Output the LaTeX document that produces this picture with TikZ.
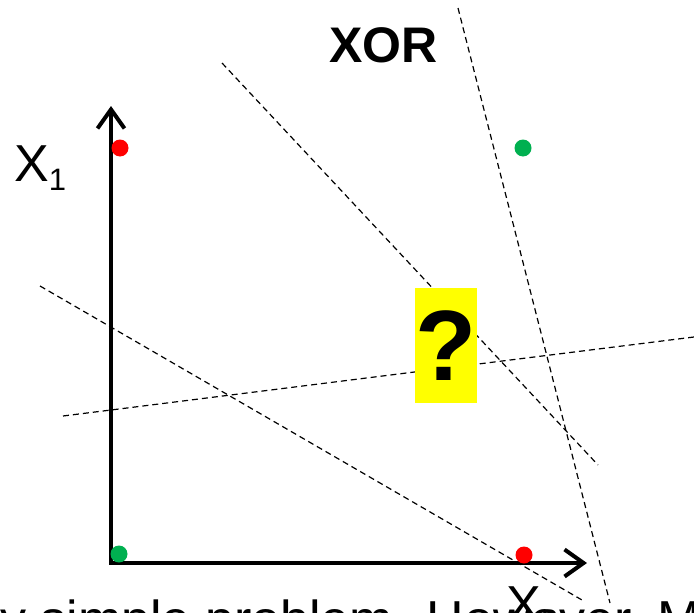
\documentclass[tikz,border=0pt]{standalone}
\usepackage{fontspec}
\setmainfont{Liberation Sans}
\usepackage{tikz}
\usetikzlibrary{arrows.meta, positioning}
\definecolor{ptred}{RGB}{255,0,0}
\definecolor{ptgreen}{RGB}{0,176,80}
\definecolor{qyellow}{RGB}{255,255,0}
\tikzset{
  axisline/.style={line width=4pt, line join=miter,
    arrows={Straight Barb[length=19pt,width=27pt]-Straight Barb[length=19pt,width=27pt]}},
  datapoint/.style={circle, inner sep=0pt, minimum size=17pt},
  redpt/.style={datapoint, fill=ptred},
  greenpt/.style={datapoint, fill=ptgreen},
  sepline/.style={dash pattern=on 6pt off 4pt, line width=1.2pt},
  qbox/.style={fill=qyellow, minimum width=62pt, minimum height=115pt, inner sep=0pt,
    font=\fontsize{100}{100}\selectfont\bfseries},
  axislabel/.style={font=\fontsize{52}{60}\selectfont, inner sep=0pt},
  headline/.style={font=\fontsize{50}{56}\selectfont\bfseries, inner sep=0pt}
}
\newcommand{\subidx}[1]{\raisebox{-9pt}{\fontsize{31}{31}\selectfont #1}}

\begin{document}
\begin{tikzpicture}[x=1pt, y=-1pt]
  \useasboundingbox (0,0) rectangle (694,613);
  \clip (0,0) rectangle (694,613);

  % candidate separating lines
  \draw[sepline] (222,63) -- (598,465);
  \draw[sepline] (458,8) -- (610,603);
  \draw[sepline] (40,286) -- (582,600);
  \draw[sepline] (63,416) -- (694,337);

  % axes
  \coordinate (origin) at (111,563);
  \coordinate (ytip) at (111,106);
  \coordinate (xtip) at (587,563);
  \draw[axisline] (ytip) -- (origin) -- (xtip);

  \node[redpt] (ra) at (120,148) {};
  \node[greenpt] (ga) at (523,148) {};
  \node[greenpt] (gb) at (119,554) {};
  \node[redpt] (rb) at (524,555) {};

  \node[qbox] (quest) at (446,345.5) {?};
  \node[headline, anchor=base west] (xor) at (329,62) {XOR};
  \node[axislabel, anchor=base west] (xone) at (14,181) {X\subidx{1}};
  \node[axislabel, anchor=base west] (xtwo) at (506,622) {X\subidx{2}};
  \node[axislabel, anchor=base west] (caption) at (0,637) {y simple problem. However, M};
\end{tikzpicture}
\end{document}
